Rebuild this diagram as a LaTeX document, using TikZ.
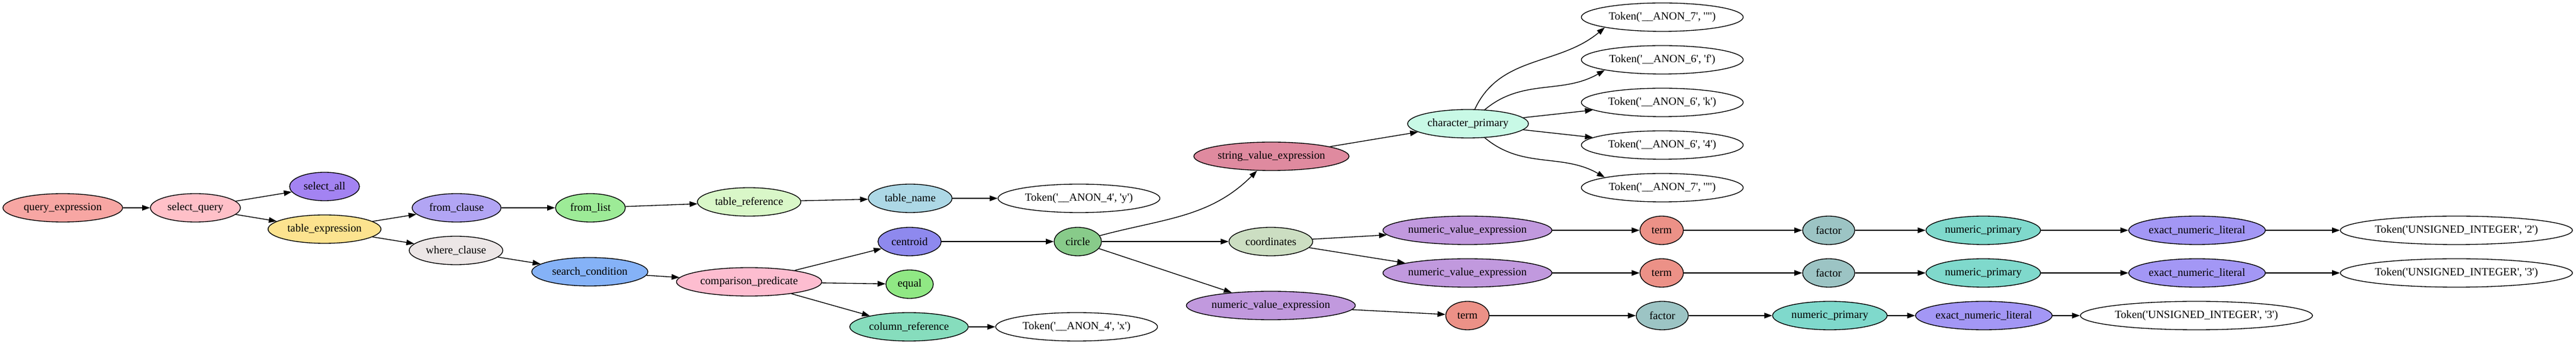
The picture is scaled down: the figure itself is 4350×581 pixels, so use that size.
\documentclass[tikz,border=0pt]{standalone}
\usepackage{fontspec}
\setmainfont{Liberation Serif}[Ligatures=TeXOff]
\usetikzlibrary{shapes.geometric,arrows.meta}

\definecolor{qecol}{HTML}{F7A6A3}
\definecolor{selcol}{HTML}{FFC0C8}
\definecolor{allcol}{HTML}{A383F2}
\definecolor{texcol}{HTML}{FCE38F}
\definecolor{fromcol}{HTML}{B2A5F4}
\definecolor{wherecol}{HTML}{ECE6E6}
\definecolor{flcol}{HTML}{9DEB97}
\definecolor{trcol}{HTML}{D9F7C8}
\definecolor{tncol}{HTML}{ADD8E6}
\definecolor{condcol}{HTML}{85B2F7}
\definecolor{compcol}{HTML}{FDBDD0}
\definecolor{centcol}{HTML}{8E89EE}
\definecolor{eqcol}{HTML}{90E884}
\definecolor{colcol}{HTML}{86DDBD}
\definecolor{circcol}{HTML}{88CB8A}
\definecolor{coordcol}{HTML}{CCDEC2}
\definecolor{nvcol}{HTML}{C199DE}
\definecolor{tmcol}{HTML}{EC9187}
\definecolor{fccol}{HTML}{9CC4C4}
\definecolor{npcol}{HTML}{7FD9CC}
\definecolor{litcol}{HTML}{A397F5}
\definecolor{strcol}{HTML}{DF8A9F}
\definecolor{chcol}{HTML}{C8F9E6}

\begin{document}
\begin{tikzpicture}[x=0.75pt,y=0.75pt,line width=1pt,>={Triangle[length=10pt,width=7pt]},
    every node/.style={shape=ellipse,draw,inner xsep=0pt,inner ysep=2pt,minimum height=36pt,font=\fontsize{14pt}{16pt}\selectfont},
    tok/.style={fill=white,minimum width=205pt},
    nv/.style={fill=nvcol,minimum width=214pt},
    tm/.style={fill=tmcol,minimum width=55pt},
    fc/.style={fill=fccol,minimum width=66pt},
    np/.style={fill=npcol,minimum width=145pt},
    lit/.style={fill=litcol,minimum width=173pt},
    int/.style={fill=white,minimum width=294pt}]
    \useasboundingbox (0,0) rectangle (4350,581);
    % tree nodes
    \node (qexp)[fill=qecol, minimum width=151.5pt] at (106,230) {query\_expression};
    \node (sel)[fill=selcol, minimum width=114pt] at (330,230) {select\_query};
    \node (selall)[fill=allcol, minimum width=88.5pt] at (548,266) {select\_all};
    \node (texp)[fill=texcol, minimum width=143pt] at (548,194) {table\_expression};
    \node (from)[fill=fromcol, minimum width=112.5pt] at (771,230) {from\_clause};
    \node (where)[fill=wherecol, minimum width=118.5pt] at (770,158) {where\_clause};
    \node (flist)[fill=flcol, minimum width=88.5pt] at (997,230) {from\_list};
    \node (tref)[fill=trcol, minimum width=131pt] at (1265,240) {table\_reference};
    \node (tname)[fill=tncol, minimum width=106pt] at (1537,246) {table\_name};
    \node (toky)[tok] at (1822,246) {Token('\_\_ANON\_4', 'y')};
    \node (cond)[fill=condcol, minimum width=147pt] at (996,122) {search\_condition};
    \node (comp)[fill=compcol, minimum width=184pt] at (1265,105) {comparison\_predicate};
    \node (cent)[fill=centcol, minimum width=80pt] at (1536,173) {centroid};
    \node (eq)[fill=eqcol, minimum width=60pt] at (1536,101) {equal};
    \node (colref)[fill=colcol, minimum width=150pt] at (1535,29) {column\_reference};
    \node (tokx)[tok] at (1818,29) {Token('\_\_ANON\_4', 'x')};
    \node (circ)[fill=circcol, minimum width=60pt] at (1820,173) {circle};
    \node (strv)[fill=strcol, minimum width=196.5pt] at (2147,317) {string\_value\_expression};
    \node (charp)[fill=chcol, minimum width=153pt] at (2479,372) {character\_primary};
    \node (ch1)[tok] at (2807,552) {Token('\_\_ANON\_7', '"')};
    \node (ch2)[tok] at (2807,480) {Token('\_\_ANON\_6', 'f')};
    \node (ch3)[tok] at (2807,408) {Token('\_\_ANON\_6', 'k')};
    \node (ch4)[tok] at (2807,336) {Token('\_\_ANON\_6', '4')};
    \node (ch5)[tok] at (2807,264) {Token('\_\_ANON\_7', '"')};
    \node (coord)[fill=coordcol, minimum width=106pt] at (2146,173) {coordinates};
    \node (nv1)[nv] at (2478,192) {numeric\_value\_expression};
    \node (nv2)[nv] at (2478,120) {numeric\_value\_expression};
    \node (nv3)[nv] at (2146,65) {numeric\_value\_expression};
    \node (tm1)[tm] at (2806,192) {term};
    \node (tm2)[tm] at (2806,120) {term};
    \node (tm3)[tm] at (2478,48) {term};
    \node (fc1)[fc] at (3088,192) {factor};
    \node (fc2)[fc] at (3088,120) {factor};
    \node (fc3)[fc] at (2807,48) {factor};
    \node (np1)[np] at (3349,192) {numeric\_primary};
    \node (np2)[np] at (3349,120) {numeric\_primary};
    \node (np3)[np] at (3090,48) {numeric\_primary};
    \node (lit1)[lit] at (3710,192) {exact\_numeric\_literal};
    \node (lit2)[lit] at (3710,120) {exact\_numeric\_literal};
    \node (lit3)[lit] at (3350,48) {exact\_numeric\_literal};
    \node (int1)[int] at (4148,192) {Token('UNSIGNED\_INTEGER', '2')};
    \node (int2)[int] at (4148,120) {Token('UNSIGNED\_INTEGER', '3')};
    \node (int3)[int] at (3709,48) {Token('UNSIGNED\_INTEGER', '3')};
    % tree edges
    \draw[->] (qexp) -- (sel);
    \draw[->] (sel) -- (selall);
    \draw[->] (sel) -- (texp);
    \draw[->] (texp) -- (from);
    \draw[->] (texp) -- (where);
    \draw[->] (from) -- (flist);
    \draw[->] (flist) -- (tref);
    \draw[->] (tref) -- (tname);
    \draw[->] (tname) -- (toky);
    \draw[->] (where) -- (cond);
    \draw[->] (cond) -- (comp);
    \draw[->] (comp) -- (cent);
    \draw[->] (comp) -- (eq);
    \draw[->] (comp) -- (colref);
    \draw[->] (colref) -- (tokx);
    \draw[->] (cent) -- (circ);
    \draw[->] (circ) to[out=15, in=-135] (strv);
    \draw[->] (circ) -- (coord);
    \draw[->] (circ) -- (nv3);
    \draw[->] (strv) -- (charp);
    \draw[->] (charp) to[out=65, in=-140] (ch1.south west);
    \draw[->] (charp) to[out=40, in=-150] (ch2.south west);
    \draw[->] (charp) -- (ch3);
    \draw[->] (charp) -- (ch4);
    \draw[->] (charp) to[out=-40, in=150] (ch5.north west);
    \draw[->] (coord) -- (nv1);
    \draw[->] (coord) -- (nv2);
    \draw[->] (nv1) -- (tm1);
    \draw[->] (tm1) -- (fc1);
    \draw[->] (fc1) -- (np1);
    \draw[->] (np1) -- (lit1);
    \draw[->] (lit1) -- (int1);
    \draw[->] (nv2) -- (tm2);
    \draw[->] (tm2) -- (fc2);
    \draw[->] (fc2) -- (np2);
    \draw[->] (np2) -- (lit2);
    \draw[->] (lit2) -- (int2);
    \draw[->] (nv3) -- (tm3);
    \draw[->] (tm3) -- (fc3);
    \draw[->] (fc3) -- (np3);
    \draw[->] (np3) -- (lit3);
    \draw[->] (lit3) -- (int3);
\end{tikzpicture}
\end{document}
